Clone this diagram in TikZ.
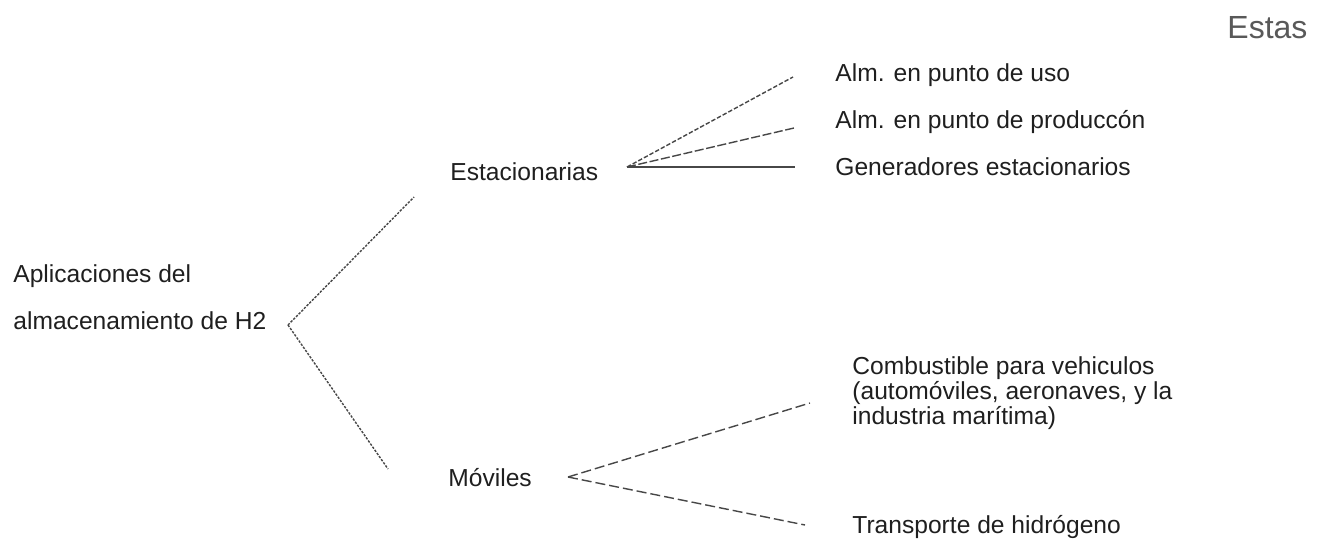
\documentclass[tikz,border=0pt]{standalone}
\usepackage{fontspec}
\setmainfont{Liberation Sans}
\begin{document}
\begin{tikzpicture}[x=0.5pt,y=-0.5pt,
  label/.style={anchor=west,inner sep=0pt,text=black!88,
    font=\fontsize{12.3}{11.3}\selectfont,align=left},
  branch/.style={draw=black!72,line width=0.7pt},
  dotline/.style={branch,dash pattern=on 1.2pt off 0.7pt},
  shortdash/.style={branch,dash pattern=on 2.2pt off 1pt},
  longdash/.style={branch,dash pattern=on 4.5pt off 1.3pt},
  wide dash/.style={branch,dash pattern=on 5pt off 2pt}]
\useasboundingbox (0,0) rectangle (1326,540);

% running text fragment at the top right
\node[anchor=west,inner sep=0pt,text=black!65,font=\fontsize{16}{18}\selectfont]
  (estas) at (1227,28) {Estas};

% root
\node[label] (root1) at (13,276) {Aplicaciones del};
\node[label] (root2) at (13,321) {almacenamiento de H2};
\coordinate (rootfork) at (288,325);

% first level
\node[label] (est) at (450,172) {Estacionarias};
\node[label] (mov) at (448,478) {Móviles};
\coordinate (estin) at (414,197);
\coordinate (movin) at (388,469);

% second level
\coordinate (estfork) at (627,167);
\coordinate (movfork) at (568,477);

\node[label] (uso) at (835,75) {Alm. en punto de uso};
\node[label] (prod) at (835,122) {Alm. en punto de produccón};
\node[label] (gen) at (835,167) {Generadores estacionarios};
\coordinate (usoin) at (793,77);
\coordinate (prodin) at (794,128);
\coordinate (genin) at (795,167);

\node[label] (comb) at (852,393) {Combustible para vehiculos\\(automóviles, aeronaves, y la\\industria marítima)};
\node[label] (trans) at (852,527) {Transporte de hidrógeno};
\coordinate (combin) at (810,403);
\coordinate (transin) at (805,525);

% connectors
\draw[dotline] (rootfork) -- (estin);
\draw[dotline] (rootfork) -- (movin);

\draw[shortdash] (estfork) -- (usoin);
\draw[longdash] (estfork) -- (prodin);
\draw[branch] (estfork) -- (genin);

\draw[wide dash] (movfork) -- (combin);
\draw[wide dash] (movfork) -- (transin);
\end{tikzpicture}
\end{document}
